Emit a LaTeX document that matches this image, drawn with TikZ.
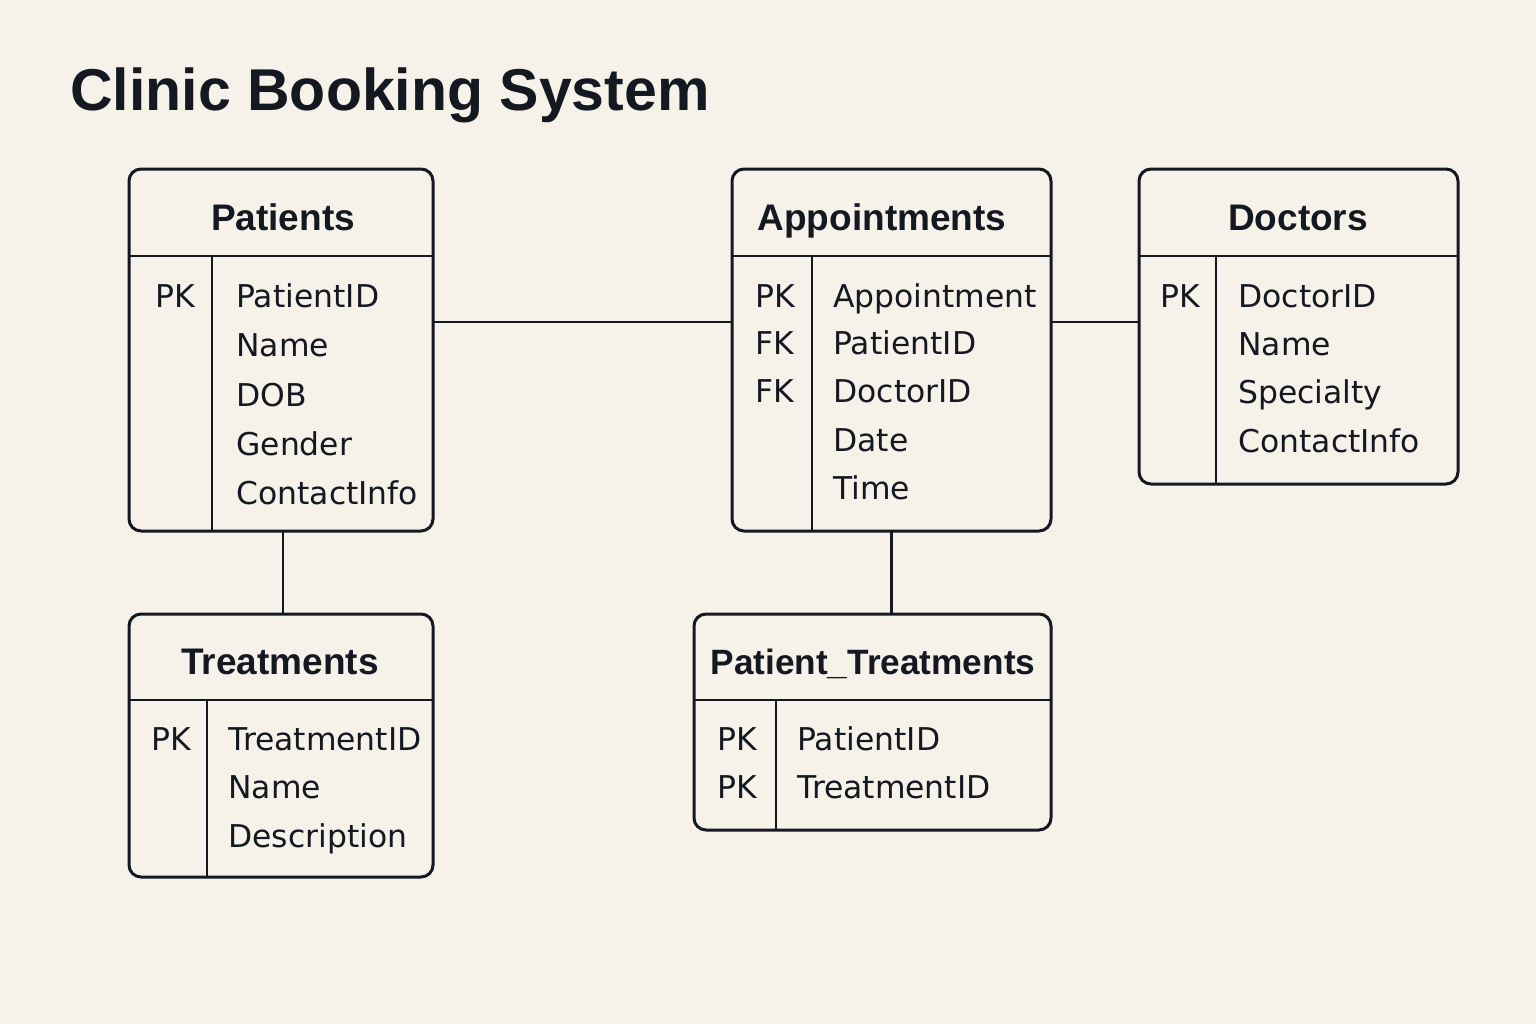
\documentclass[tikz,border=0pt]{standalone}
\usepackage{fontspec}
\setmainfont{DejaVu Sans}
\newfontfamily\hdrfont{Liberation Sans}
\definecolor{bg}{HTML}{F6F2EA}
\definecolor{ink}{HTML}{141821}
\begin{document}
\begin{tikzpicture}[x=0.5pt,y=-0.5pt,
  ent/.style={draw=ink, line width=1.5pt, rounded corners=6pt, fill=bg, inner sep=0pt, outer sep=0pt, anchor=north west},
  hline/.style={draw=ink, line width=1.2pt},
  vline/.style={draw=ink, line width=0.8pt},
  conn/.style={draw=ink, line width=1.2pt},
  hdr/.style={text=ink, font=\hdrfont\bfseries\fontsize{18.5}{22}\selectfont, anchor=base, inner sep=0pt},
  fld/.style={text=ink, font=\fontsize{15.7}{18}\selectfont, anchor=base west, inner sep=0pt},
  ttl/.style={text=ink, font=\hdrfont\bfseries\fontsize{29.5}{34}\selectfont, anchor=base west, inner sep=0pt}
]
\fill[bg] (0,0) rectangle (1536,1024);
\useasboundingbox (0,0) rectangle (1536,1024);

\node[ttl] (title) at (70,110) {Clinic Booking System};

% Patients
\node[ent, minimum width=152pt, minimum height=181pt] (P) at (129,169) {};
\draw[hline] (129,256) -- (433,256);
\draw[vline] (212,256) -- (212,531);
\node[hdr] (Ph) at (283,230) {Patients};
\node[fld] (Pk1) at (155,307) {PK};
\node[fld] (Pf1) at (236,307) {PatientID};
\node[fld] (Pf2) at (236,356) {Name};
\node[fld] (Pf3) at (236,406) {DOB};
\node[fld] (Pf4) at (236,455) {Gender};
\node[fld] (Pf5) at (236,504) {ContactInfo};

% Appointments
\node[ent, minimum width=159.5pt, minimum height=181pt] (A) at (732,169) {};
\draw[hline] (732,256) -- (1051,256);
\draw[vline] (812,256) -- (812,531);
\node[hdr] (Ah) at (882,230) {Appointments};
\node[fld] (Ak1) at (755,307) {PK};
\node[fld] (Ak2) at (755,354) {FK};
\node[fld] (Ak3) at (755,402) {FK};
\node[fld] (Af1) at (833,307) {Appointment};
\node[fld] (Af2) at (833,354) {PatientID};
\node[fld] (Af3) at (833,402) {DoctorID};
\node[fld] (Af4) at (833,451) {Date};
\node[fld] (Af5) at (833,499) {Time};

% Doctors
\node[ent, minimum width=159.5pt, minimum height=157.5pt] (D) at (1139,169) {};
\draw[hline] (1139,256) -- (1458,256);
\draw[vline] (1216,256) -- (1216,484);
\node[hdr] (Dh) at (1298,230) {Doctors};
\node[fld] (Dk1) at (1160,307) {PK};
\node[fld] (Df1) at (1238,307) {DoctorID};
\node[fld] (Df2) at (1238,355) {Name};
\node[fld] (Df3) at (1238,403) {Specialty};
\node[fld] (Df4) at (1238,452) {ContactInfo};

% Treatments
\node[ent, minimum width=152pt, minimum height=131.5pt] (T) at (129,614) {};
\draw[hline] (129,700) -- (433,700);
\draw[vline] (207,700) -- (207,877);
\node[hdr] (Th) at (280,674) {Treatments};
\node[fld] (Tk1) at (151,750) {PK};
\node[fld] (Tf1) at (228,750) {TreatmentID};
\node[fld] (Tf2) at (228,798) {Name};
\node[fld] (Tf3) at (228,847) {Description};

% Patient_Treatments
\node[ent, minimum width=178.5pt, minimum height=108pt] (PT) at (694,614) {};
\draw[hline] (694,700) -- (1051,700);
\draw[vline] (776,700) -- (776,830);
\node[hdr, font=\hdrfont\bfseries\fontsize{17.6}{22}\selectfont] (PTh) at (873,674) {Patient\_Treatments};
\node[fld] (PTk1) at (717,750) {PK};
\node[fld] (PTk2) at (717,798) {PK};
\node[fld] (PTf1) at (797,750) {PatientID};
\node[fld] (PTf2) at (797,798) {TreatmentID};

% connectors
\draw[conn] ([yshift=-76.5pt]P.north east) -- ([yshift=-76.5pt]A.north west);
\draw[conn] ([yshift=-76.5pt]A.north east) -- ([yshift=-76.5pt]D.north west);
\draw[conn] ([xshift=1pt]P.south) -- ([xshift=1pt]P.south |- T.north);
\draw[conn] (A.south) -- (A.south |- PT.north);
\end{tikzpicture}
\end{document}
